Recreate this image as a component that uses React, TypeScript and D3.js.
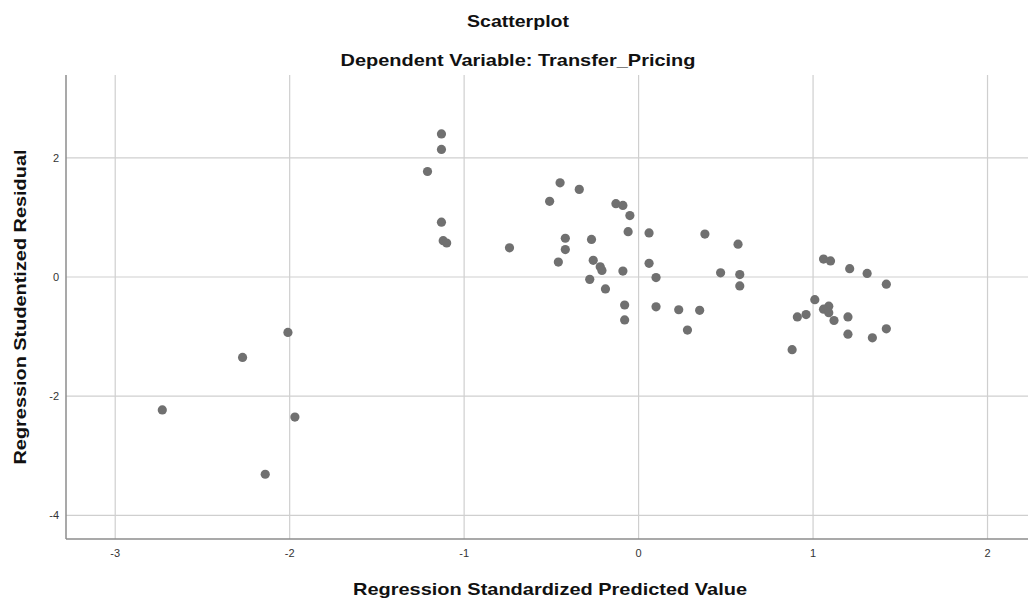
import * as d3 from 'd3';

// Regression Standardized Predicted Value
const predicted = [
  -2.01, -2.27, -2.73, -1.97, -2.14,
  -1.13, -1.13, -1.21, -1.13, -1.12, -1.10, -0.74,
  -0.45, -0.34, -0.51, -0.13, -0.09, -0.05, -0.06, 0.06,
  -0.42, -0.27, -0.42, -0.46, -0.26, -0.22, -0.21, -0.09, 0.06, 0.10,
  -0.28, -0.19, -0.08, 0.10, -0.08, 0.23, 0.35, 0.28,
  0.38, 0.57, 0.47, 0.58, 0.58,
  1.06, 1.10, 1.21, 1.31, 1.42, 1.01, 1.09, 1.06, 1.09, 1.12,
  0.96, 0.91, 1.20, 1.42, 1.20, 1.34, 0.88,
];

// Regression Studentized Residual
const residual = [
  -0.93, -1.35, -2.23, -2.35, -3.31,
  2.40, 2.14, 1.77, 0.92, 0.61, 0.57, 0.49,
  1.58, 1.47, 1.27, 1.23, 1.20, 1.03, 0.76, 0.74,
  0.65, 0.63, 0.46, 0.25, 0.28, 0.17, 0.11, 0.10, 0.23, -0.01,
  -0.04, -0.20, -0.47, -0.50, -0.72, -0.55, -0.56, -0.89,
  0.72, 0.55, 0.07, 0.04, -0.15,
  0.30, 0.27, 0.14, 0.06, -0.12, -0.38, -0.49, -0.54, -0.60, -0.73,
  -0.63, -0.67, -0.67, -0.87, -0.96, -1.02, -1.22,
];

const xTicks = [-3, -2, -1, 0, 1, 2];
const yTicks = [2, 0, -2, -4];

const title = 'Scatterplot';
const subtitle = 'Dependent Variable: Transfer_Pricing';
const xLabel = 'Regression Standardized Predicted Value';
const yLabel = 'Regression Studentized Residual';

const W = 1028;
const H = 602;
const margin = { top: 75, right: 0, bottom: 63, left: 66 };
const font = '"Liberation Sans", Arial, sans-serif';

export default function App() {
  const x = d3.scaleLinear().domain([-3.282, 2.232]).range([margin.left, W - margin.right]);
  const y = d3.scaleLinear().domain([-4.396, 3.389]).range([H - margin.bottom, margin.top]);
  const points = predicted.map((p, i) => ({ p, r: residual[i] }));
  const x0 = margin.left;
  const x1 = W - margin.right;
  const y0 = margin.top;
  const y1 = H - margin.bottom;

  return (
    <div style={{ position: 'fixed', left: 0, top: 0 }}>
      <svg width={W} height={H} style={{ display: 'block', background: '#fff' }}>
        <text x={518} y={27} textAnchor="middle" fontFamily={font} fontWeight="bold"
          fontSize={17} fill="#111" textLength={102} lengthAdjust="spacingAndGlyphs">{title}</text>
        <text x={518} y={66} textAnchor="middle" fontFamily={font} fontWeight="bold"
          fontSize={17} fill="#111" textLength={355} lengthAdjust="spacingAndGlyphs">{subtitle}</text>

        {xTicks.map(t => (
          <line key={'gx' + t} x1={x(t)} x2={x(t)} y1={y0} y2={y1} stroke="#cfcfcf" strokeWidth={1.2} />
        ))}
        {yTicks.map(t => (
          <line key={'gy' + t} x1={x0} x2={x1} y1={y(t)} y2={y(t)} stroke="#cfcfcf" strokeWidth={1.2} />
        ))}

        <line x1={x0} x2={x0} y1={y0} y2={y1} stroke="#8c8c8c" strokeWidth={1.5} />
        <line x1={x0} x2={x1} y1={y1} y2={y1} stroke="#8c8c8c" strokeWidth={1.5} />

        {xTicks.map(t => (
          <text key={'tx' + t} x={x(t)} y={557} textAnchor="middle" fontFamily={font}
            fontSize={11} fill="#333">{t}</text>
        ))}
        {yTicks.map(t => (
          <text key={'ty' + t} x={59} y={y(t) + 4} textAnchor="end" fontFamily={font}
            fontSize={11} fill="#333">{t}</text>
        ))}

        <text x={550} y={595} textAnchor="middle" fontFamily={font} fontWeight="bold"
          fontSize={17} fill="#111" textLength={394} lengthAdjust="spacingAndGlyphs">{xLabel}</text>
        <text transform={`translate(26,${(y0 + y1) / 2}) rotate(-90)`} textAnchor="middle"
          fontFamily={font} fontWeight="bold" fontSize={17} fill="#111"
          textLength={315} lengthAdjust="spacingAndGlyphs">{yLabel}</text>

        {points.map((d, i) => (
          <circle key={i} cx={x(d.p)} cy={y(d.r)} r={4.6} fill="#707070" />
        ))}
      </svg>
    </div>
  );
}
